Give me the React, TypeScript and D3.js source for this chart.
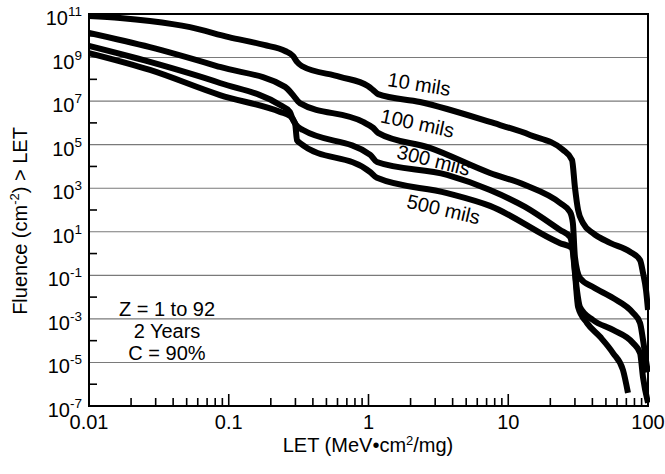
import React from "react";
import * as d3 from "d3";

// [LET (MeV·cm²/mg), fluence (cm⁻²)]
const mils10: [number, number][] = [
  [0.01, 8.1e10], [0.0167, 6.6e10], [0.0273, 4.8e10], [0.0528, 2.5e10], [0.1, 8.7e9],
  [0.179, 3.8e9], [0.253, 2.0e9], [0.288, 1.2e9], [0.308, 6.3e8], [0.333, 4.1e8],
  [0.625, 1.3e8], [0.99, 4.9e7], [1.08, 3.2e7], [1.17, 2.1e7], [2.34, 9.1e6],
  [7.4, 1.1e6], [14.3, 2.8e5], [24.6, 5.8e4], [28.6, 2.0e4], [30.0, 1.1e3],
  [31.6, 100], [34.3, 25], [40.4, 8.7], [53.5, 3.1], [74.3, 1.2],
  [87.7, 0.5], [92.1, 0.13], [96.8, 0.021], [100, 2.6e-3],
];
const mils100: [number, number][] = [
  [0.01, 1.35e10], [0.0273, 3.0e9], [0.0865, 3.7e8], [0.253, 4.5e7], [0.288, 1.9e7],
  [0.323, 8.1e6], [0.914, 1.1e6], [1.08, 5.9e5], [1.17, 3.5e5], [2.75, 7.1e4],
  [7.4, 5.0e3], [13.2, 1.4e3], [23.5, 210], [27.7, 81], [29.0, 25], [30.0, 0.69],
  [32.6, 0.076], [40.4, 0.029], [56.2, 9.1e-3], [78.1, 1.9e-3], [87.7, 6.5e-4],
  [92.1, 1.1e-4], [98.4, 6.2e-6], [100, 3.6e-6],
];
const mils300: [number, number][] = [
  [0.01, 3.4e9], [0.0273, 6.3e8], [0.0865, 6.8e7], [0.233, 6.6e6], [0.274, 3.2e6],
  [0.288, 1.35e6], [0.313, 6.5e5], [0.34, 4.7e5], [1.03, 3.4e4], [1.15, 1.6e4],
  [3.65, 4.1e3], [7.4, 830], [13.2, 138], [23.5, 12], [27.7, 5.8], [29.0, 1.45],
  [31.0, 0.021], [32.6, 3.5e-3], [40.4, 8.9e-4], [56.2, 3.1e-4], [78.1, 7.8e-5],
  [87.7, 2.7e-5], [92.1, 2.1e-6], [100, 1.4e-7],
];
const mils500: [number, number][] = [
  [0.01, 1.6e9], [0.0273, 2.7e8], [0.0865, 1.9e7], [0.233, 3.2e6], [0.274, 2.1e6],
  [0.298, 9.8e5], [0.308, 1.6e5], [0.323, 1.2e5], [1.03, 5.5e3], [1.15, 3.0e3],
  [3.65, 600], [7.4, 155], [23.5, 3.0], [28.6, 1.8], [30.0, 0.13], [31.6, 3.5e-3],
  [36.6, 6.5e-4], [45.4, 1.5e-4], [56.2, 2.7e-5], [66.2, 4.5e-6], [71.9, 4.0e-7],
];

const seriesNames = ["10 mils", "100 mils", "300 mils", "500 mils"];
const seriesData = [mils10, mils100, mils300, mils500];

const xTickLabels = ["0.01", "0.1", "1", "10", "100"];
const yExponents = [11, 9, 7, 5, 3, 1, -1, -3, -5, -7];
const noteLines = ["Z = 1 to 92", "2 Years", "C = 90%"];

const W = 665;
const H = 474;
const left = 89;
const right = 648;
const top = 14;
const bottom = 406;
const font = "'Liberation Sans', Arial, Helvetica, sans-serif";
const fs = 20;

export default function App() {
  const x = d3.scaleLog().domain([0.01, 100]).range([left, right]);
  const y = d3.scaleLog().domain([1e-7, 1e11]).range([bottom, top]);

  const line = d3
    .line<[number, number]>()
    .x((d) => x(d[0]))
    .y((d) => y(d[1]))
    .curve(d3.curveMonotoneX);

  // minor x ticks 2..9 in each decade, major at decades
  const minorX: number[] = [];
  [0.01, 0.1, 1, 10].forEach((dec) => {
    for (let k = 2; k <= 9; k++) minorX.push(dec * k);
  });
  const majorX = [0.1, 1, 10];

  const gridY = yExponents.filter((e) => e % 2 !== 0 && e > -7 && e < 11);
  const minorY = d3.range(-6, 11, 2);

  // label placement (baseline centre, angle)
  const labelPos: [number, number, number][] = [
    [418, 91, 9],
    [416, 130, 12],
    [432, 167, 14],
    [442, 216, 13],
  ];

  return (
    <svg
      width={W}
      height={H}
      style={{ position: "absolute", left: 0, top: 0, background: "#fff" }}
      fontFamily={font}
    >
      <defs>
        <clipPath id="plot">
          <rect x={left} y={top - 2} width={right - left + 2} height={bottom - top + 2} />
        </clipPath>
      </defs>
      <rect x={0} y={0} width={W} height={H} fill="#fff" />

      {/* grid */}
      {gridY.map((e) => (
        <line key={e} x1={left} x2={right} y1={y(Math.pow(10, e))} y2={y(Math.pow(10, e))} stroke="#7a7a7a" strokeWidth={1.1} />
      ))}

      {/* y minor ticks */}
      {minorY.map((e) => (
        <line key={e} x1={left} x2={left + 8} y1={y(Math.pow(10, e))} y2={y(Math.pow(10, e))} stroke="#000" strokeWidth={1.6} />
      ))}

      {/* x ticks */}
      {minorX.map((v) => (
        <line key={v} x1={x(v)} x2={x(v)} y1={bottom} y2={bottom - 8} stroke="#000" strokeWidth={1.6} />
      ))}
      {majorX.map((v) => (
        <line key={v} x1={x(v)} x2={x(v)} y1={bottom} y2={bottom - 12} stroke="#000" strokeWidth={1.6} />
      ))}

      {/* curves */}
      <g clipPath="url(#plot)">
        {seriesData.map((s, i) => (
          <path key={seriesNames[i]} d={line(s) ?? ""} fill="none" stroke="#000" strokeWidth={6} strokeLinejoin="round" />
        ))}
      </g>

      {/* frame */}
      <rect x={left} y={top} width={right - left} height={bottom - top} fill="none" stroke="#000" strokeWidth={2} />

      {/* curve labels */}
      {seriesNames.map((n, i) => (
        <text
          key={n}
          transform={`translate(${labelPos[i][0]},${labelPos[i][1]}) rotate(${labelPos[i][2]})`}
          textAnchor="middle"
          fontSize={fs}
        >
          {n}
        </text>
      ))}

      {/* y tick labels */}
      {yExponents.map((e) => (
        <text key={e} x={82} y={y(Math.pow(10, e)) + 11} textAnchor="end" fontSize={fs}>
          <tspan>10</tspan>
          <tspan dy={-9} fontSize={13.5}>
            {String(e)}
          </tspan>
        </text>
      ))}

      {/* x tick labels */}
      {xTickLabels.map((t) => (
        <text key={t} x={x(+t)} y={429} textAnchor="middle" fontSize={fs}>
          {t}
        </text>
      ))}

      {/* axis titles */}
      <text x={368} y={452} textAnchor="middle" fontSize={fs}>
        <tspan>LET (MeV•cm</tspan>
        <tspan dy={-7} fontSize={13}>2</tspan>
        <tspan dy={7}>/mg)</tspan>
      </text>
      <text transform="translate(27,221) rotate(-90)" textAnchor="middle" fontSize={fs}>
        <tspan>Fluence (cm</tspan>
        <tspan dy={-8} fontSize={13}>-2</tspan>
        <tspan dy={8}>) &gt; LET</tspan>
      </text>

      {/* note */}
      {noteLines.map((t, i) => (
        <text key={t} x={167} y={316 + i * 22} textAnchor="middle" fontSize={fs}>
          {t}
        </text>
      ))}
    </svg>
  );
}
